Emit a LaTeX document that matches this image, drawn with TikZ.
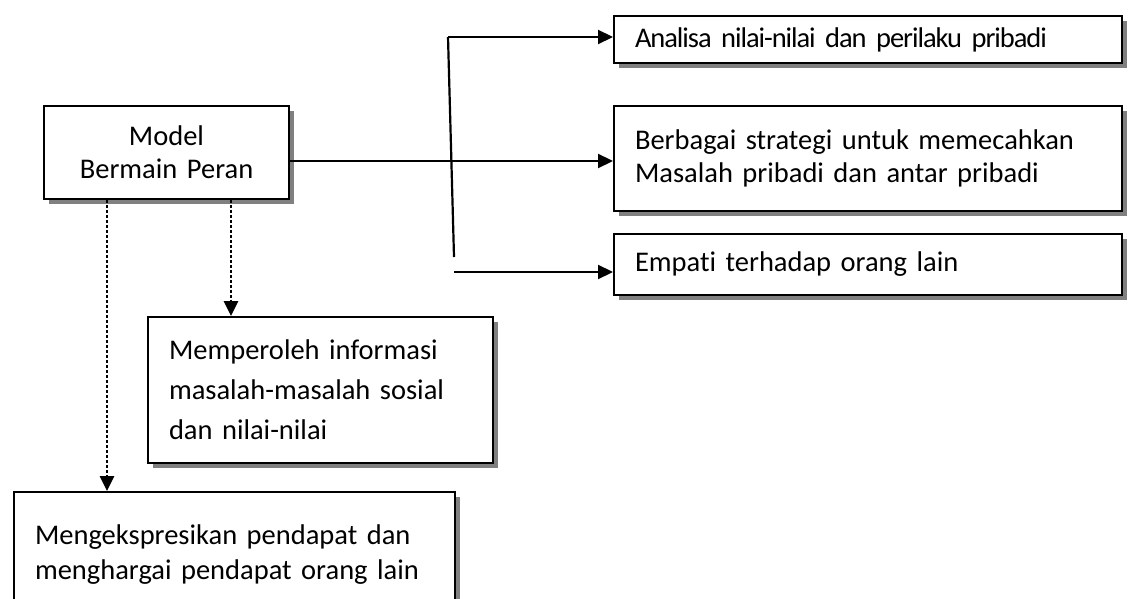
\documentclass[tikz,border=0pt]{standalone}
\usepackage{fontspec}
\setmainfont{Carlito}[Ligatures=NoCommon]
\usetikzlibrary{arrows.meta,shadows}
\begin{document}
\begin{tikzpicture}[x=1pt,y=-1pt,
  box/.style={draw=black,line width=2pt,fill=white,rectangle,anchor=north west,
    inner xsep=21pt,inner ysep=0pt,font=\fontsize{28.5}{33}\selectfont,
    drop shadow={shadow xshift=5pt,shadow yshift=-5pt,fill=black!50,opacity=1}},
  arr/.style={line width=2.2pt,-{Triangle[length=15pt,width=14pt]}},
  dotarr/.style={line width=2.8pt,dash pattern=on 2.6pt off 2.4pt,-{Triangle[length=15pt,width=14pt]}},
  plain/.style={line width=2.2pt}]
\useasboundingbox (0,0) rectangle (1134,599);
\node[box,align=center,minimum width=245pt,minimum height=93pt,text width=203pt] (model) at (43,105) {Model\\Bermain Peran};
\node[box,align=left,minimum width=508pt,minimum height=47pt,text width=466pt] (analisa) at (613,15) {\addfontfeatures{LetterSpace=-3.7}Analisa nilai-nilai dan perilaku pribadi};
\node[box,align=left,minimum width=508pt,minimum height=105pt,text width=466pt] (berbagai) at (613,105) {Berbagai strategi untuk memecahkan\\Masalah pribadi dan antar pribadi};
\node[box,align=left,minimum width=508pt,minimum height=61pt,text width=466pt] (empati) at (613,233) {Empati terhadap orang lain};
\node[box,align=left,minimum width=345pt,minimum height=146pt,text width=303pt,font=\fontsize{28.5}{40}\selectfont] (memperoleh) at (147,316) {Memperoleh informasi\\masalah-masalah sosial\\dan nilai-nilai};
\node[box,align=left,minimum width=441pt,minimum height=125pt,text width=399pt,font=\fontsize{28.5}{35}\selectfont] (mengek) at (13,491) {Mengekspresikan pendapat dan\\menghargai pendapat orang lain};
\coordinate (vtop) at (448,37);
\coordinate (vbot) at (454,257);
\coordinate (hb) at (454,272);
\coordinate (hm) at (0,161);
\coordinate (d1) at (107,0);
\coordinate (d2) at (231,0);
\draw[plain] (vtop) -- (vbot);
\draw[arr] (vtop) -- (analisa.west |- vtop);
\draw[arr] (hb) -- (empati.west |- hb);
\draw[arr] (model.east |- hm) -- (berbagai.west |- hm);
\draw[dotarr] (model.south -| d1) -- (mengek.north -| d1);
\draw[dotarr] (model.south -| d2) -- (memperoleh.north -| d2);
\end{tikzpicture}
\end{document}
